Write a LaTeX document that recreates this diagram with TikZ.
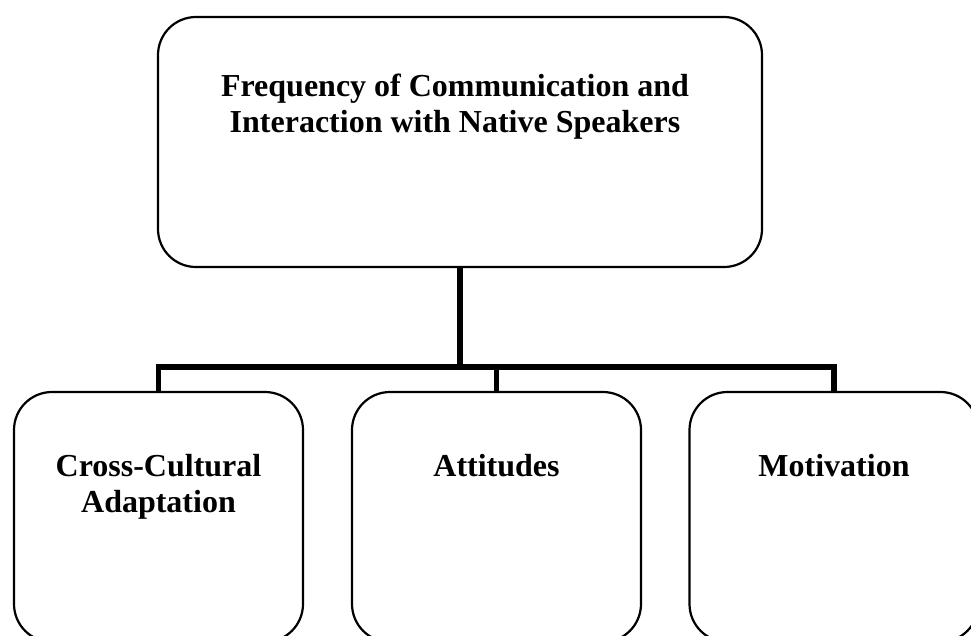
\documentclass[tikz,border=0pt]{standalone}
\usepackage{fontspec}
\setmainfont{Liberation Serif}
\usepackage{tikz}
\usetikzlibrary{shapes,arrows,positioning}

\begin{document}
\begin{tikzpicture}[x=1pt, y=-1pt]
			\tikzstyle{Box}		= [rectangle, draw, line width=2.2pt, rounded corners=38pt, inner sep=0pt]
			\tikzstyle{TopBox}	= [Box, minimum width=604pt, minimum height=250pt]
			\tikzstyle{SubBox}	= [Box, minimum width=289pt, minimum height=250pt]
			\tikzstyle{Label}	= [anchor=north, inner sep=0pt, align=center, font=\fontsize{32}{36}\selectfont\bfseries]
			\tikzstyle{Link}	= [line width=5.5pt]
			
			\path [use as bounding box, clip] (0, 0) rectangle (971, 635);
			
			\node (freq) at (460, 142) [TopBox] {};
			\node (cca) at (158.5, 517) [SubBox] {};
			\node (att) at (496.5, 517) [SubBox] {};
			\node (mot) at (834, 517) [SubBox] {};
			
			\node (freqtxt) at (455, 74) [Label] {Frequency of Communication and\\Interaction with Native Speakers};
			\node (ccatxt) at (158.5, 454) [Label] {Cross-Cultural\\Adaptation};
			\node (atttxt) at (496.5, 454) [Label] {Attitudes};
			\node (mottxt) at (834, 454) [Label] {Motivation};
			
			\coordinate (j) at (460, 367);
			\coordinate (jl) at (158.5, 367);
			\coordinate (jm) at (496.5, 367);
			\coordinate (jr) at (834, 367);
			
			\draw [-] (freq.south) to (j) [Link];
			\draw [-] (cca.north) -- (jl) -- (jr) -- (mot.north) [Link];
			\draw [-] (jm) to (att.north) [Link];
		\end{tikzpicture}
\end{document}
